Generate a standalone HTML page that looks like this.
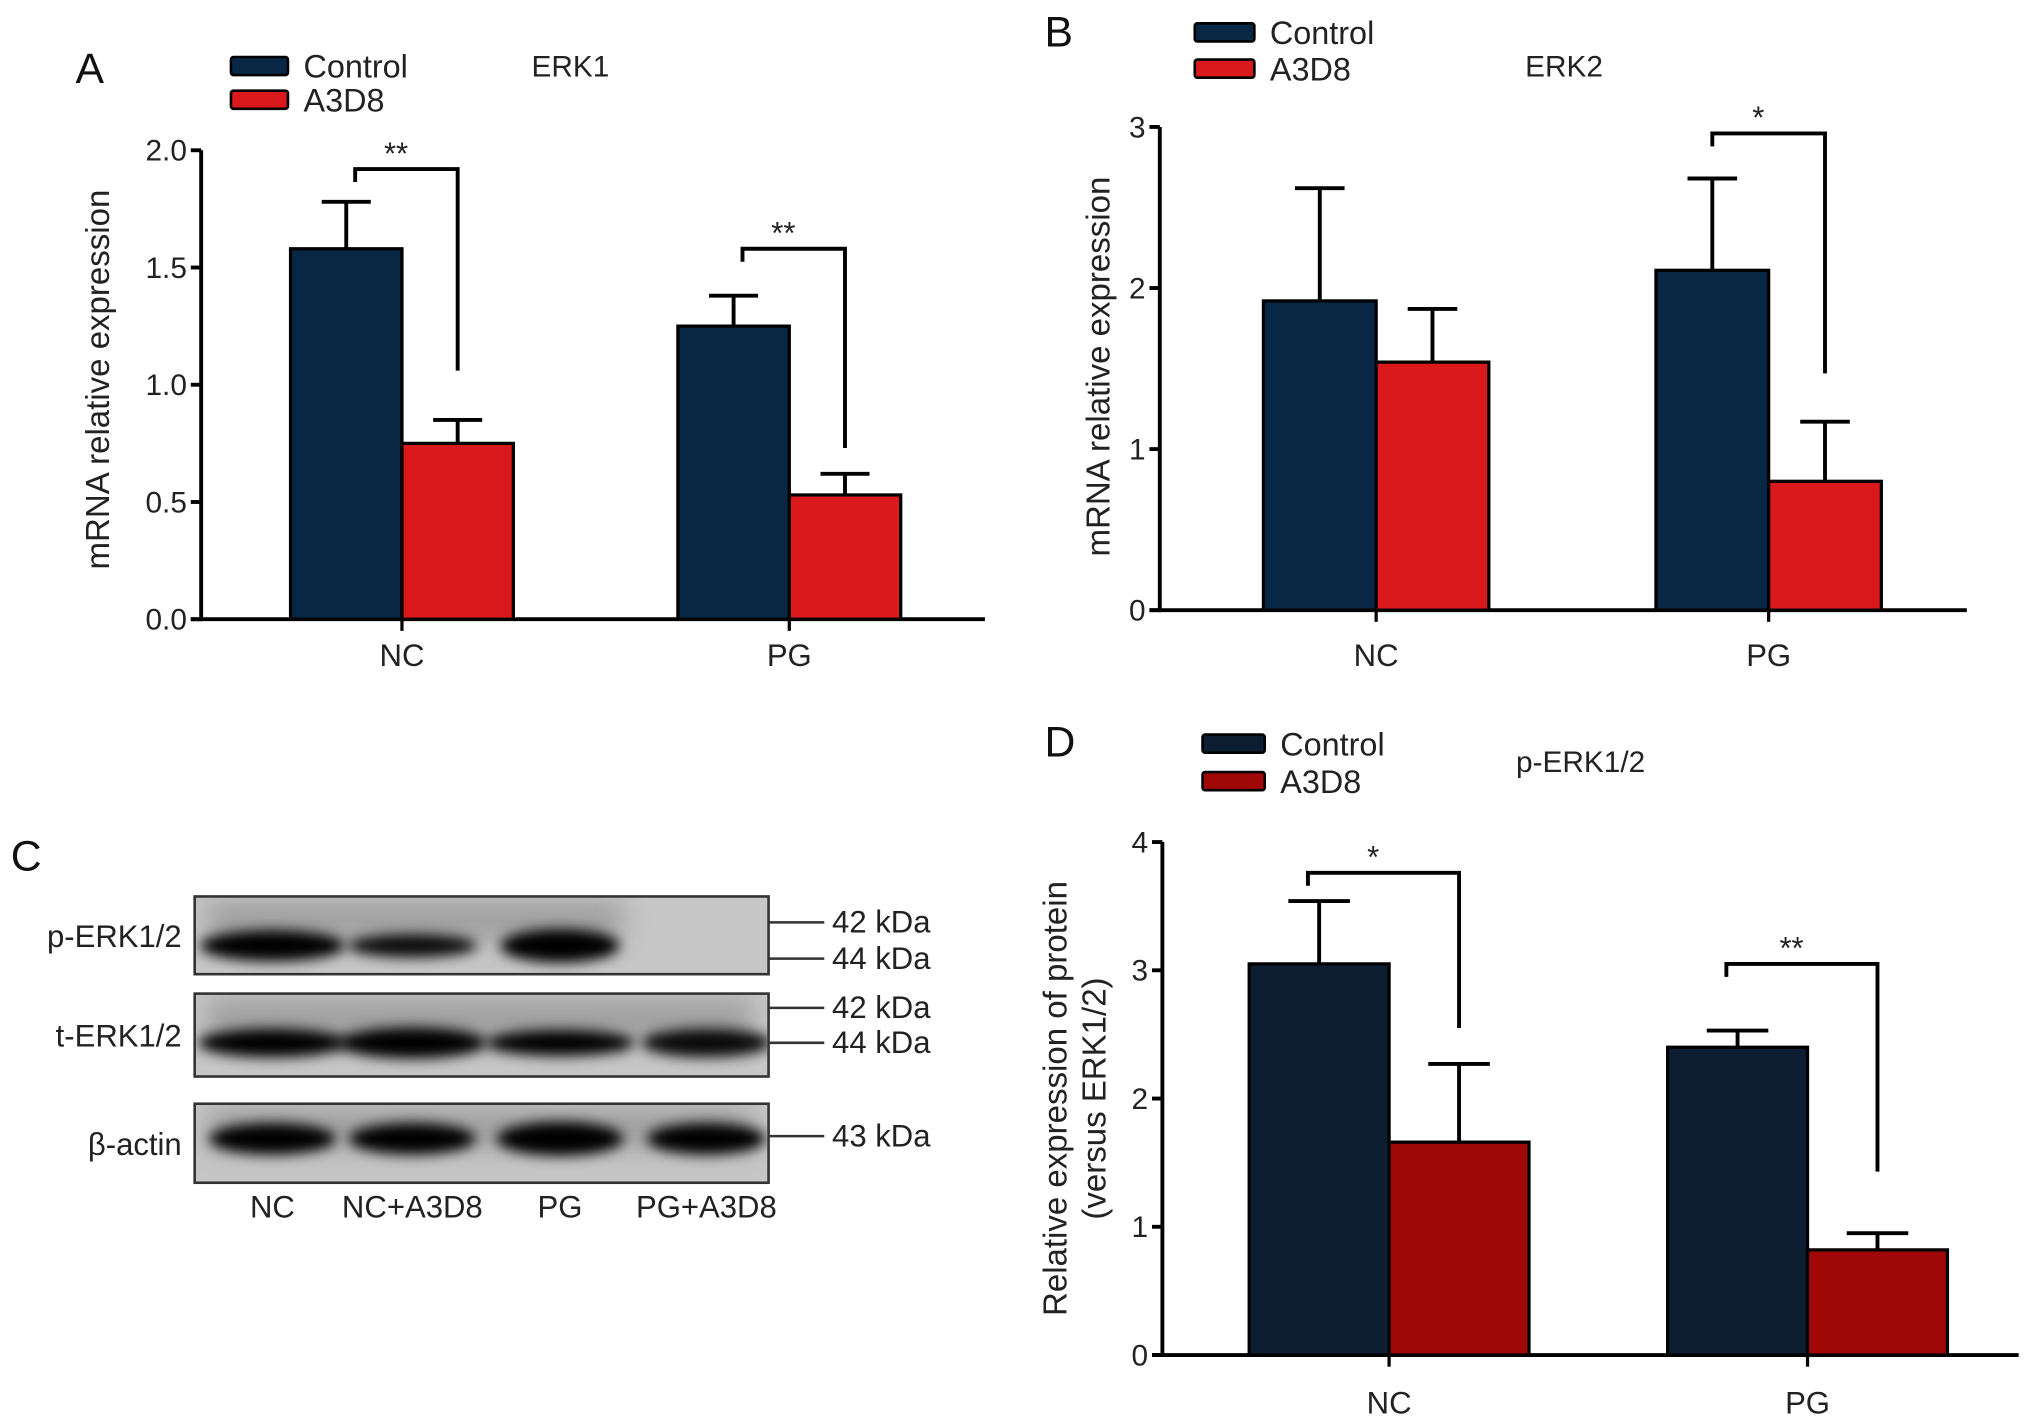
<!DOCTYPE html>
<html><head><meta charset="utf-8">
<style>
html,body{margin:0;padding:0;background:#fff;}
svg{display:block;font-family:"Liberation Sans",Arial,sans-serif;}
</style></head>
<body>
<svg id="fig" width="2032" height="1425" viewBox="0 0 1568 1100" xmlns="http://www.w3.org/2000/svg">
<defs>
<filter id="blur" x="-30%" y="-80%" width="160%" height="260%"><feGaussianBlur stdDeviation="5"/></filter>
<filter id="blur2" x="-30%" y="-80%" width="160%" height="260%"><feGaussianBlur stdDeviation="10"/></filter>
</defs>
<g id="blot"></g>
</svg>
<script>
// ---- Data ----
const categories = ["NC", "PG"];
const erk1Control = [1.58, 1.25];
const erk1ControlErr = [0.20, 0.13];
const erk1A3D8 = [0.75, 0.53];
const erk1A3D8Err = [0.10, 0.09];
const erk1Ticks = [0.0, 0.5, 1.0, 1.5, 2.0];
const erk1TickLabels = ["0.0", "0.5", "1.0", "1.5", "2.0"];
const erk1Sig = ["**", "**"];
const erk1SigTop = [1.92, 1.58];
const erk1SigEnd = [1.06, 0.73];

const erk2Control = [1.92, 2.11];
const erk2ControlErr = [0.70, 0.57];
const erk2A3D8 = [1.54, 0.80];
const erk2A3D8Err = [0.33, 0.37];
const erk2Ticks = [0, 1, 2, 3];
const erk2TickLabels = ["0", "1", "2", "3"];
const erk2Sig = ["", "*"];
const erk2SigTop = [0, 2.96];
const erk2SigEnd = [0, 1.47];

const perkControl = [3.05, 2.40];
const perkControlErr = [0.49, 0.13];
const perkA3D8 = [1.66, 0.82];
const perkA3D8Err = [0.61, 0.13];
const perkTicks = [0, 1, 2, 3, 4];
const perkTickLabels = ["0", "1", "2", "3", "4"];
const perkSig = ["*", "**"];
const perkSigTop = [3.76, 3.05];
const perkSigEnd = [2.55, 1.43];

const NS = "http://www.w3.org/2000/svg";
const svg = document.getElementById("fig");
function mk(tag, attrs, parent, text) {
  const e = document.createElementNS(NS, tag);
  for (const k in attrs) e.setAttribute(k, attrs[k]);
  if (text !== undefined) e.textContent = text;
  (parent || svg).appendChild(e);
  return e;
}

function barChart(cfg) {
  const g = mk("g", {}, svg);
  
  
  const y = v => cfg.y0 - (v - cfg.vmin) / (cfg.vmax - cfg.vmin) * (cfg.y0 - cfg.y1);
  const ya = mk("line", {x1: cfg.ax, y1: cfg.y1, x2: cfg.ax, y2: cfg.y0 + 1.5, stroke: "#000", "stroke-width": 3}, g);
  
  
  const xa = mk("line", {x1: cfg.ax - 8, y1: cfg.y0, x2: cfg.axEnd, y2: cfg.y0, stroke: "#000", "stroke-width": 3}, g);
  
  
  cfg.ticks.forEach((t, i) => {
    mk("line", {x1: cfg.ax - 8, y1: y(t), x2: cfg.ax, y2: y(t), stroke: "#000", "stroke-width": 3}, g);
    const tl = mk("text", {x: cfg.ax - 11, y: y(t) + 8, "text-anchor": "end", "font-size": 23, fill: "#222"}, g, cfg.tickLabels[i]);
    
    
  });
  const tt = mk("text", {transform: `translate(${cfg.titleX},${cfg.titleY}) rotate(-90)`, "text-anchor": "middle", "font-size": 25.5, fill: "#222"}, g);
  
  
  cfg.yTitle.forEach((line, i) => {
    mk("tspan", {x: 0, y: i * 30}, tt, line);
  });
  categories.forEach((c, i) => {
    const cx = cfg.centers[i];
    const bw = cfg.bw;
    const series = [[cfg.ctrl, cfg.ctrlErr, cfg.c1, cx - bw], [cfg.trt, cfg.trtErr, cfg.c2, cx]];
    series.forEach(([vals, errs, col, x0], s) => {
      const v = vals[i], e = errs[i];
      const mid = x0 + bw / 2;
      const top = y(v + e);
      const el = mk("line", {x1: mid, y1: y(v), x2: mid, y2: top, stroke: "#000", "stroke-width": 3}, g);
      
      
      mk("line", {x1: mid - bw * 0.22, y1: top, x2: mid + bw * 0.22, y2: top, stroke: "#000", "stroke-width": 3}, g);
      const r = mk("rect", {x: x0, y: y(v), width: bw, height: y(cfg.vmin) - y(v), fill: col, stroke: "#000", "stroke-width": 2.5}, g);
      
      
    });
    mk("line", {x1: cx, y1: cfg.y0, x2: cx, y2: cfg.y0 + 9, stroke: "#000", "stroke-width": 2.5}, g);
    const cl = mk("text", {x: cx, y: cfg.y0 + cfg.labelDy, "text-anchor": "middle", "font-size": 24, fill: "#222"}, g, c);
    
    
    const sig = cfg.sig[i];
    if (sig) {
      const lx = cx - bw * cfg.lOff, rx = cx + bw / 2;
      const top = y(cfg.sigTop[i]);
      const ly = top + 10;
      const ry = y(cfg.sigEnd[i]);
      const br = mk("polyline", {points: `${lx},${ly} ${lx},${top} ${rx},${top} ${rx},${ry}`, fill: "none", stroke: "#000", "stroke-width": 3}, g);
      
      
      const st = mk("text", {x: (lx + rx) / 2 - 8, y: top - 4, "text-anchor": "middle", "font-size": 24, fill: "#222"}, g, sig);
      
      
    }
  });
  const L = cfg.legend;
  [["Control", cfg.c1], ["A3D8", cfg.c2]].forEach(([lab, col], i) => {
    const ly = L.y + i * L.dy;
    const lr = mk("rect", {x: L.x, y: ly, width: L.w, height: 14, fill: col, stroke: "#000", "stroke-width": 2, rx: 2}, g);
    
    
    const lt = mk("text", {x: L.x + L.w + 12, y: ly + 16, "font-size": 25, fill: "#222"}, g, lab);
    
    
  });
  const ti = mk("text", {x: cfg.titlePos[0], y: cfg.titlePos[1], "font-size": 23, fill: "#222"}, g, cfg.title);
  
  
  const pl = mk("text", {x: cfg.letterPos[0], y: cfg.letterPos[1], "font-size": 33, fill: "#111"}, g, cfg.letter);
  
  
}

barChart({name: "chart-erk1", ax: 155, axEnd: 760, y0: 478, y1: 116, vmin: 0, vmax: 2, labelDy: 36,
  ticks: erk1Ticks, tickLabels: erk1TickLabels, ctrl: erk1Control, ctrlErr: erk1ControlErr,
  trt: erk1A3D8, trtErr: erk1A3D8Err, sig: erk1Sig, sigTop: erk1SigTop, sigEnd: erk1SigEnd, lOff: 0.42, centers: [310, 609], bw: 86,
  c1: "#082744", c2: "#d9191c", yTitle: ["mRNA relative expression"], titleX: 84, titleY: 293,
  legend: {x: 178, y: 44, dy: 26, w: 44}, title: "ERK1", titlePos: [410, 59], letter: "A", letterPos: [58, 64]});

barChart({name: "chart-erk2", ax: 895, axEnd: 1518, y0: 471, y1: 98, vmin: 0, vmax: 3, labelDy: 43,
  ticks: erk2Ticks, tickLabels: erk2TickLabels, ctrl: erk2Control, ctrlErr: erk2ControlErr,
  trt: erk2A3D8, trtErr: erk2A3D8Err, sig: erk2Sig, sigTop: erk2SigTop, sigEnd: erk2SigEnd, lOff: 0.5, centers: [1062, 1365], bw: 87,
  c1: "#082744", c2: "#d9191c", yTitle: ["mRNA relative expression"], titleX: 856, titleY: 283,
  legend: {x: 922, y: 18, dy: 28, w: 46}, title: "ERK2", titlePos: [1177, 59], letter: "B", letterPos: [806, 36]});

barChart({name: "chart-p-erk", ax: 897, axEnd: 1558, y0: 1046, y1: 650, vmin: 0, vmax: 4, labelDy: 45,
  ticks: perkTicks, tickLabels: perkTickLabels, ctrl: perkControl, ctrlErr: perkControlErr,
  trt: perkA3D8, trtErr: perkA3D8Err, sig: perkSig, sigTop: perkSigTop, sigEnd: perkSigEnd, lOff: 0.58, centers: [1072, 1395], bw: 108,
  c1: "#0d1e33", c2: "#a00808", yTitle: ["Relative expression of protein", "(versus ERK1/2)"], titleX: 823, titleY: 848,
  legend: {x: 928, y: 567, dy: 29, w: 48}, title: "p-ERK1/2", titlePos: [1170, 596], letter: "D", letterPos: [806, 584]});

// ---- Western blot (panel C) ----
const blot = document.getElementById("blot");
const laneLabels = ["NC", "NC+A3D8", "PG", "PG+A3D8"];
const laneX = [210, 318, 432, 545];
const boxes = [
  {name: "p-erk-blot", label: "p-ERK1/2", y: 692, h: 60, bands: [[112, 24, 1], [100, 18, 0.95], [92, 26, 1], [0, 0, 0]], by: 730, kda: [[712, "42 kDa"], [740, "44 kDa"]]},
  {name: "t-erk-blot", label: "t-ERK1/2", y: 767, h: 64, bands: [[115, 22, 1], [115, 24, 1], [115, 20, 1], [100, 22, 0.95]], by: 805, kda: [[778, "42 kDa"], [805, "44 kDa"]]},
  {name: "beta-actin-blot", label: "β-actin", y: 852, h: 61, bands: [[98, 24, 1], [98, 24, 1], [98, 26, 1], [92, 24, 1]], by: 879, kda: [[877, "43 kDa"]]}
];
boxes.forEach(b => {
  const g = mk("g", {}, blot);
  
  
  mk("rect", {x: 150, y: b.y, width: 443, height: b.h, fill: "#c6c6c6", stroke: "#333", "stroke-width": 2}, g);
  const cp = "clip" + b.y;
  const cpEl = mk("clipPath", {id: cp}, g);
  mk("rect", {x: 151, y: b.y + 1, width: 441, height: b.h - 2}, cpEl);
  const inner = mk("g", {"clip-path": `url(#${cp})`}, g);
  mk("rect", {x: 160, y: b.y + 4, width: b.name === "p-erk-blot" ? 320 : 420, height: b.h * 0.5, fill: "#8e8e8e", filter: "url(#blur2)", opacity: 0.7}, inner);
  b.bands.forEach((bd, i) => {
    if (!bd[0]) return;
    const e = mk("ellipse", {cx: laneX[i], cy: b.by, rx: bd[0] / 2, ry: bd[1] / 2, fill: "#050505", opacity: bd[2], filter: "url(#blur)"}, inner);
    
    
  });
  const lb = mk("text", {x: 140, y: (b.y + b.h / 2) + 9, "text-anchor": "end", "font-size": 24, fill: "#222"}, g, b.label);
  
  
  b.kda.forEach(([ky, kt]) => {
    mk("line", {x1: 593, y1: ky, x2: 636, y2: ky, stroke: "#333", "stroke-width": 2}, g);
    const kl = mk("text", {x: 642, y: ky + 8, "font-size": 24, fill: "#222"}, g, kt);
    
    
  });
});
laneLabels.forEach((l, i) => {
  const t = mk("text", {x: laneX[i], y: 940, "text-anchor": "middle", "font-size": 24, fill: "#222"}, blot, l);
  
  
});
const cL = mk("text", {x: 8, y: 672, "font-size": 33, fill: "#111"}, blot, "C");


</script>
</body></html>
